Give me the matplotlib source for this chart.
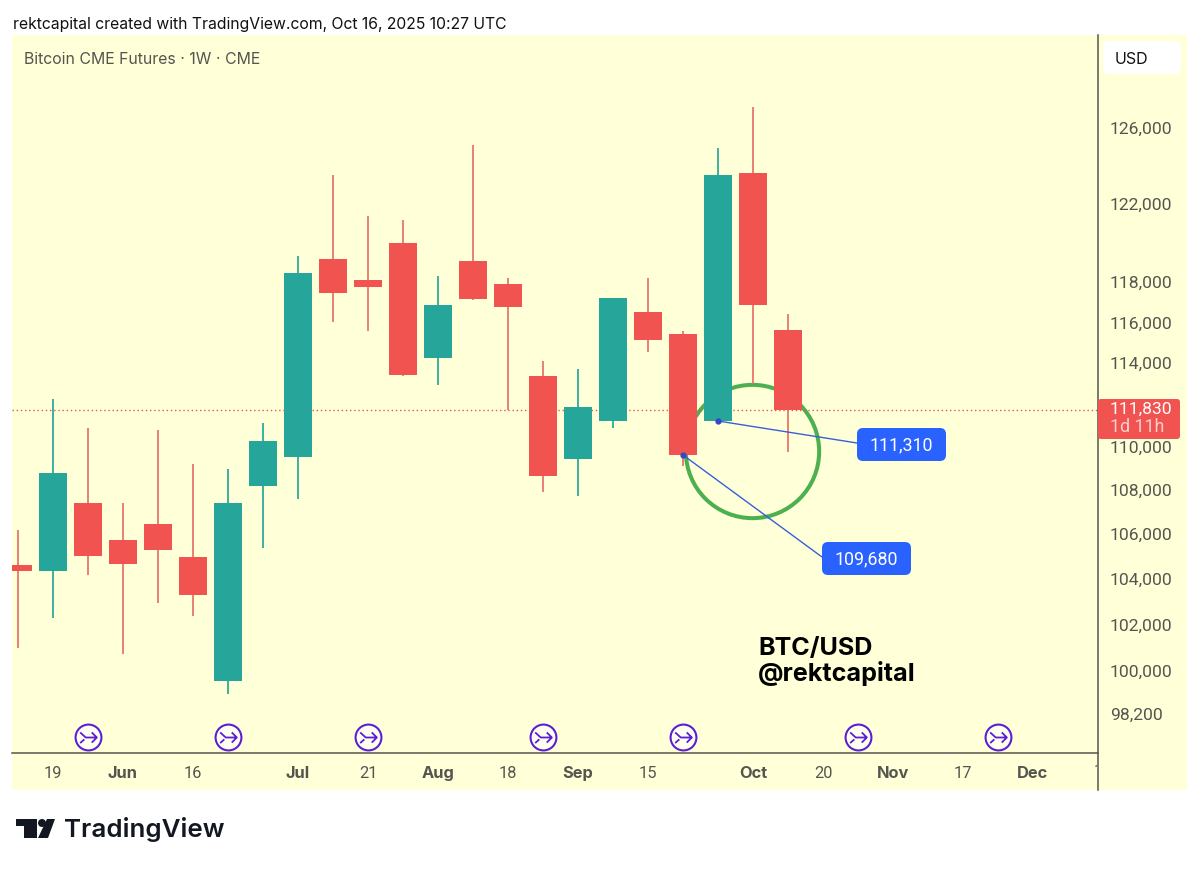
import matplotlib
matplotlib.use('Agg')
import matplotlib.pyplot as plt
import numpy as np
from matplotlib.patches import Rectangle, FancyBboxPatch, Polygon, Circle
from matplotlib.path import Path
from matplotlib.ticker import NullLocator
from matplotlib.transforms import Bbox

plt.rcParams['font.family'] = ['Inter', 'DejaVu Sans']

# weekly candles
opens = [104616, 104349, 107414, 105735, 106458, 104973, 99575, 108194, 109538, 119171, 118110, 119985,
         114255, 119069, 117910, 113382, 109445, 111230, 116513, 115427, 111230, 123615, 115624]
closes = [104349, 108795, 105017, 104660, 105286, 103288, 107414, 110286, 118462, 117460, 117760, 113429,
          116860, 117159, 116761, 108655, 111895, 117209, 115132, 109631, 123510, 116860, 111752]
highs = [106190, 112277, 110899, 107414, 110805, 109212, 108980, 111135, 119323, 123510, 121373, 121167,
         118312, 125098, 118211, 114107, 113720, 117209, 118211, 115574, 124938, 127138, 116414]
lows = [100984, 102282, 104172, 100726, 102937, 102369, 99026, 105376, 107597, 116018, 115574, 113382,
        112948, 117110, 111752, 107918, 107734, 110899, 114545, 109119, 111230, 112995, 109771]

price_ticks = [98200, 100000, 102000, 104000, 106000, 108000, 110000, 114000, 116000, 118000, 122000, 126000]
date_pos = [1, 3, 5, 8, 10, 12, 14, 16, 18, 21, 23, 25, 27, 29]
date_labels = ['19', 'Jun', '16', 'Jul', '21', 'Aug', '18', 'Sep', '15', 'Oct', '20', 'Nov', '17', 'Dec']
event_pos = [2, 6, 10, 15, 19, 24, 28]

BG = '#FFFFD8'
RED = '#F05350'
RED_WICK = '#E8706A'
GREEN = '#26A69A'
BLUE = '#2962FF'
GREY = '#555550'
PURPLE = '#5B1FD6'
NUM_FONT = ['Roboto', 'DejaVu Sans']

fig = plt.figure(figsize=(12, 8.69), dpi=100, facecolor='white')
ax = fig.add_axes([12 / 1200, 1 - 753 / 869, 1086 / 1200, 718 / 869], facecolor=BG)
fig.add_artist(Rectangle((12 / 1200, 1 - 790 / 869), 1175 / 1200, 755 / 869, transform=fig.transFigure,
                         fc=BG, ec='none', zorder=-1))

x = np.arange(len(opens))
opens = np.array(opens)
closes = np.array(closes)
up = closes > opens

ax.set_yscale('log')
ax.set_xlim(-6 / 35, 1080 / 35)
ax.set_ylim(96569, 131095)

# green circle sits behind the candles
ax.plot([20.97], [109800], 'o', ms=96, mfc='none', mec='#4CAF50', mew=2.9, zorder=1)

wick_colors = [GREEN if u else RED_WICK for u in up]
ax.vlines(x, lows, highs, colors=wick_colors, lw=1.25, zorder=2)
ax.bar(x, np.abs(closes - opens), bottom=np.minimum(opens, closes), width=0.8,
       color=[GREEN if u else RED for u in up], zorder=3)

ax.axhline(closes[-1], color=RED, lw=1, ls=(0, (1, 2)), zorder=1.5)

# axes
for s in ['top', 'left', 'right']:
    ax.spines[s].set_visible(False)
ax.spines['bottom'].set_color(GREY)
ax.spines['bottom'].set_linewidth(1.1)
ax.plot([1, 1], [-37 / 718, 1], color=GREY, lw=1.1, transform=ax.transAxes, clip_on=False, zorder=5)

ax.yaxis.tick_right()
ax.set_yticks(price_ticks)
ax.set_yticklabels(['{:,}'.format(p) for p in price_ticks], fontsize=12.6, color=GREY, family=NUM_FONT)
ax.yaxis.set_minor_locator(NullLocator())
ax.tick_params(axis='y', length=0, pad=8.6)
ax.set_xticks(date_pos)
ax.set_xticklabels(date_labels, fontsize=11.8, color=GREY)
for t in ax.get_xticklabels():
    if t.get_text().isalpha():
        t.set_fontweight('bold')
    else:
        t.set_family(NUM_FONT)
ax.tick_params(axis='x', length=0, pad=9.5)

# next date label is cut off by the price axis
cut = fig.text(1094 / 1200, 1 - 772 / 869, '1', fontsize=11.8, color=GREY, family=NUM_FONT,
               ha='left', va='center', clip_on=True)
cut.set_clip_box(Bbox([[1000, 0], [1097, 869]]))

# events row
ev_trans = ax.get_xaxis_transform()
ev_y = [16 / 718] * len(event_pos)
ax.plot(event_pos, ev_y, 'o', ms=18.6, mfc='#FFFFF0', mec=PURPLE, mew=1.5, transform=ev_trans, zorder=6)
arrow_icon = Path([(-0.9, 0.55), (-0.3, 0), (0.9, 0), (0.35, 0.55), (0.9, 0), (0.35, -0.55),
                   (-0.9, -0.6), (-0.45, -0.2)],
                  [Path.MOVETO, Path.LINETO, Path.LINETO, Path.MOVETO, Path.LINETO, Path.LINETO,
                   Path.MOVETO, Path.LINETO])
ax.plot(event_pos, ev_y, ls='none', marker=arrow_icon, ms=12, mfc='none', mec=PURPLE, mew=1.3,
        transform=ev_trans, zorder=7)

# price notes
notes = [(19, 109631, 822, 557, '109,680', 822, 542), (20, 111230, 857, 443, '111,310', 857, 428)]
for nx, ny, lx, ly, txt, bx, by in notes:
    ax.annotate('', xy=(nx, ny), xytext=(lx, 869 - ly), xycoords='data', textcoords='figure pixels',
                arrowprops=dict(arrowstyle='-', color='#3560D8', lw=1.0, shrinkA=0, shrinkB=0), zorder=8)
    ax.plot([nx], [ny], 'o', ms=3.5, color='#3A45C8', zorder=8)
    fig.add_artist(FancyBboxPatch((bx + 5, 869 - by - 28), 79, 23, boxstyle='round,pad=5,rounding_size=6',
                                  fc=BLUE, ec='none', transform=None, zorder=10))
    fig.text((bx + 44.5) / 1200, 1 - (by + 17) / 869, txt, color='white', fontsize=12.8, family=NUM_FONT,
             ha='center', va='center', zorder=11)

# top texts
fig.text(13 / 1200, 1 - 24 / 869, 'rektcapital created with TradingView.com, Oct 16, 2025 10:27 UTC',
         fontsize=11.33, color='#111111', va='center')
fig.text(24 / 1200, 1 - 60 / 869, 'Bitcoin CME Futures · 1W · CME', fontsize=11.4, color=GREY, va='center')
fig.text(758 / 1200, 1 - 648 / 869, 'BTC/USD', fontsize=18.1, fontweight='bold', color='black', va='center')
fig.text(758 / 1200, 1 - 674 / 869, '@rektcapital', fontsize=18.1, fontweight='bold', color='black', va='center')

# currency button
fig.add_artist(FancyBboxPatch((1108, 869 - 69), 68, 23, boxstyle='round,pad=5,rounding_size=6',
                              fc='white', ec='none', transform=None, zorder=10))
fig.text(1115 / 1200, 1 - 59 / 869, 'USD', fontsize=11.5, color='#111111', va='center', zorder=11)

# last price tag
fig.add_artist(FancyBboxPatch((1101, 869 - 436), 76, 34, boxstyle='round,pad=3,rounding_size=3',
                              fc=RED, ec='none', transform=None, zorder=10))
fig.text(1110 / 1200, 1 - 409 / 869, '111,830', fontsize=12.6, color='white', va='center', zorder=11,
         family=NUM_FONT)
fig.text(1110 / 1200, 1 - 427 / 869, '1d 11h', fontsize=12.9, color='#FBD0CC', va='center', zorder=11,
         family=NUM_FONT)

# logo
logo = '#131722'
fig.add_artist(Polygon([(16, 50), (37, 50), (37, 31), (24, 31), (24, 43), (16, 43)], closed=True,
                       fc=logo, ec='none', transform=None))
fig.add_artist(Circle((42, 869 - 823), 4, fc=logo, ec='none', transform=None))
fig.add_artist(Polygon([(47, 50), (55, 50), (48, 31), (38, 31)], closed=True,
                       fc=logo, ec='none', transform=None))
fig.text(64 / 1200, 1 - 830 / 869, 'TradingView', fontsize=18.7, fontweight='semibold', color=logo, va='center')

fig.savefig('out.png', dpi=100)
